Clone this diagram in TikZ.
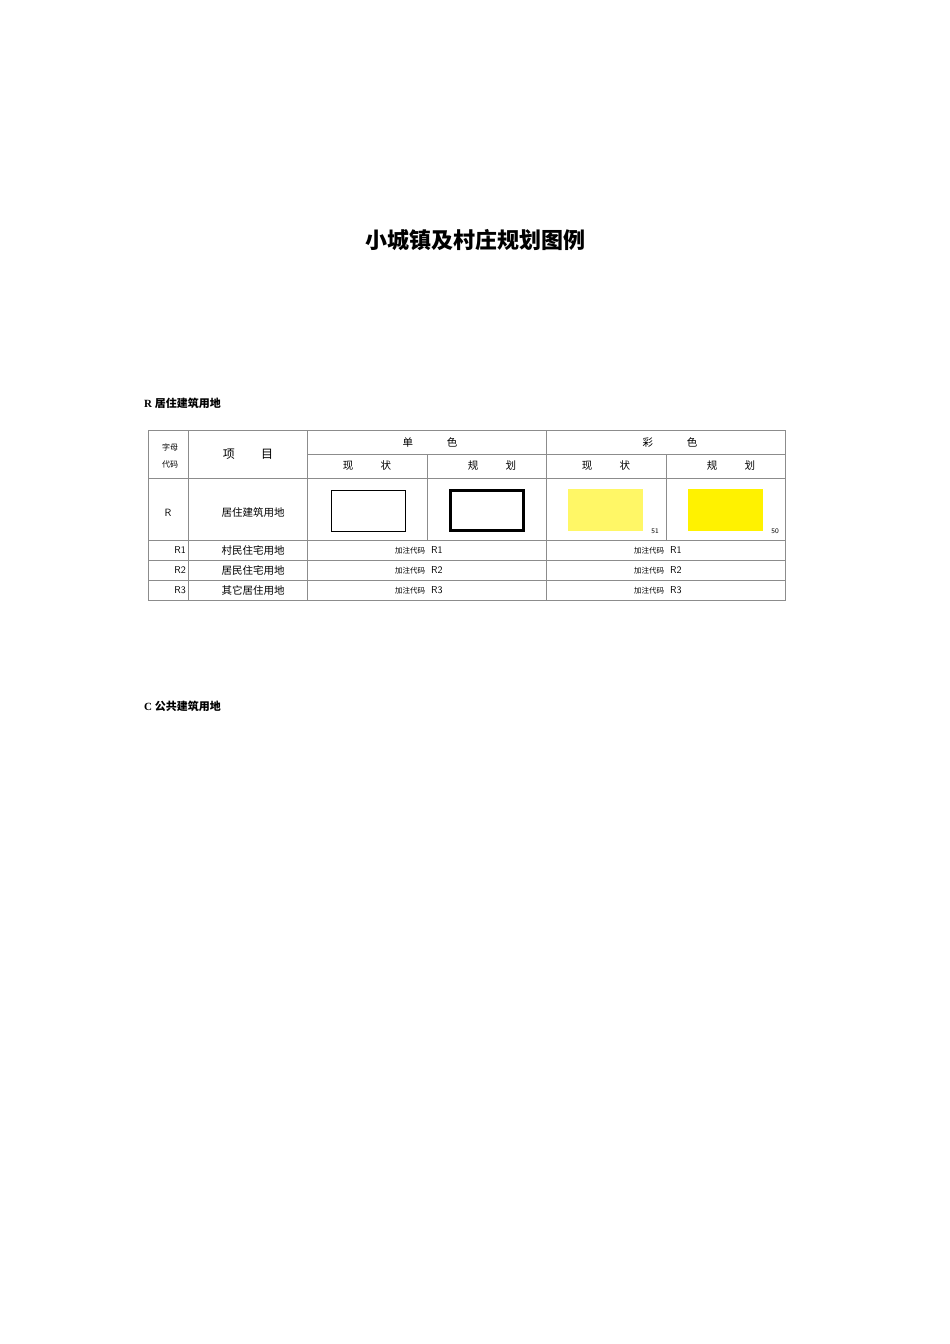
\documentclass[tikz,border=0pt]{standalone}
\usepackage{fontspec}
\setmainfont{Liberation Serif}
\newfontfamily\cjk{Noto Sans CJK SC}
\newfontfamily\cjks{Noto Sans CJK SC}
\begin{document}
\begin{tikzpicture}[x=1pt,y=-1pt,
  grid/.style={draw=black!45,line width=0.8pt},
  txt/.style={inner sep=0pt,font=\cjks\fontsize{10.5}{12}\selectfont},
  sm/.style={inner sep=0pt,font=\cjks\fontsize{8}{9}\selectfont}]
\useasboundingbox (0,0) rectangle (950,1344);
\node[inner sep=0pt,font=\cjk\bfseries\fontsize{22}{26}\selectfont] (title) at (475,240) {小城镇及村庄规划图例};
\node[anchor=west,inner sep=0pt,font=\bfseries\fontsize{11}{13}\selectfont] (hR) at (144,403) {R {\cjk 居住建筑用地}};
\node[anchor=west,inner sep=0pt,font=\bfseries\fontsize{11}{13}\selectfont] (hC) at (144,706) {C {\cjk 公共建筑用地}};
% grid
\draw[grid] (148,430) rectangle (785,600);
\draw[grid] (307,454) -- (785,454);
\draw[grid] (148,478) -- (785,478);
\draw[grid] (148,540) -- (785,540);
\draw[grid] (148,560) -- (785,560);
\draw[grid] (148,580) -- (785,580);
\draw[grid] (188,430) -- (188,600);
\draw[grid] (307,430) -- (307,600);
\draw[grid] (546,430) -- (546,600);
\draw[grid] (427,454) -- (427,540);
\draw[grid] (666,454) -- (666,540);
% header
\node[sm] (c1) at (170,447) {字母};
\node[sm] (c2) at (170,465) {代码};
\node[txt,font=\cjks\fontsize{12}{14}\selectfont] (xm) at (248,454) {项\hspace{2.2em}目};
\node[txt] (dan) at (430,442) {单\hspace{3.2em}色};
\node[txt] (cai) at (670,442) {彩\hspace{3.2em}色};
\node[txt] (a1) at (367,466) {现\hspace{2.6em}状};
\node[txt] (a2) at (492,466) {规\hspace{2.6em}划};
\node[txt] (a3) at (606,466) {现\hspace{2.6em}状};
\node[txt] (a4) at (731,466) {规\hspace{2.6em}划};
% R row
\node[inner sep=0pt,font=\sffamily\fontsize{10.5}{12}\selectfont] (r) at (168,513) {R};
\node[txt] (rn) at (253,513) {居住建筑用地};
\draw[line width=1pt] (331,490) rectangle (405,531);
\draw[line width=3pt] (450,490) rectangle (523,530);
\fill[yellow!60!white] (568,489) rectangle (643,531);
\fill[yellow] (688,489) rectangle (763,531);
\node[inner sep=0pt,font=\sffamily\fontsize{7}{8}\selectfont] (n51) at (655,531) {51};
\node[inner sep=0pt,font=\sffamily\fontsize{7}{8}\selectfont] (n50) at (775,531) {50};
% sub rows
\foreach \k/\nm/\yy in {1/村民住宅用地/550,2/居民住宅用地/570,3/其它居住用地/590}{
  \node[anchor=east,inner sep=0pt,font=\sffamily\fontsize{10}{12}\selectfont] at (186,\yy) {R\k};
  \node[txt] at (253,\yy) {\nm};
  \node[anchor=west,inner sep=0pt] at (395,\yy) {\cjks\fontsize{7.5}{9}\selectfont 加注代码\hspace{0.8em}{\sffamily\fontsize{10}{12}\selectfont R\k}};
  \node[anchor=west,inner sep=0pt] at (634,\yy) {\cjks\fontsize{7.5}{9}\selectfont 加注代码\hspace{0.8em}{\sffamily\fontsize{10}{12}\selectfont R\k}};
}
\end{tikzpicture}
\end{document}
